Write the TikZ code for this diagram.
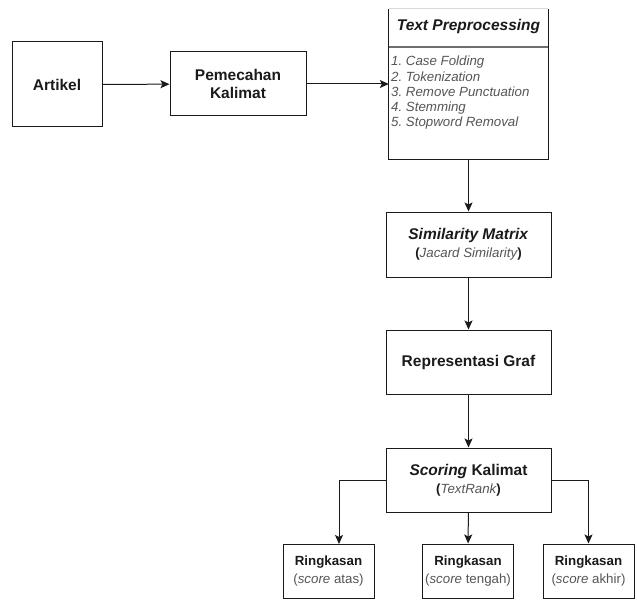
\documentclass[tikz,border=0pt]{standalone}
\usepackage{fontspec}
\setmainfont{Liberation Sans}
\usetikzlibrary{arrows.meta}
\definecolor{ink}{HTML}{1A1A1A}
\definecolor{txtgray}{HTML}{555555}
\definecolor{sepgray}{HTML}{6E6E6E}
\newcommand{\bigtxt}{\fontsize{15.5pt}{17.7pt}\selectfont\bfseries}
\newcommand{\smalltxt}{\fontsize{13.3pt}{18.3pt}\selectfont}
\frenchspacing
\begin{document}
\begin{tikzpicture}[x=1pt,y=-1pt,
    box/.style={draw=ink,line width=1pt,inner sep=0pt,align=center,text=ink,font=\bigtxt},
    leaf/.style={box,minimum width=91pt,minimum height=54pt,font=\smalltxt},
    item/.style={anchor=base west,inner sep=0pt,text=txtgray,font=\smalltxt\itshape}]
  \useasboundingbox (0,0) rectangle (637,607);
  \draw
    (57,84.5) node[box,minimum width=90pt,minimum height=85pt] (artikel) {Artikel}
    (238,84) node[box,minimum width=136pt,minimum height=64pt] (pecah) {Pemecahan\\Kalimat}
    (468.5,84) node[minimum width=159pt,minimum height=150pt,inner sep=0pt] (prep) {}
    (468.5,244.5) node[box,minimum width=165pt,minimum height=65pt] (simmat) {\textit{Similarity Matrix}\\{\smalltxt\textbf{(}\textcolor{txtgray}{\mdseries\itshape Jacard Similarity}\textbf{)}}}
    (468.5,362) node[box,minimum width=165pt,minimum height=64pt] (graf) {Representasi Graf}
    (468.5,480) node[box,minimum width=165pt,minimum height=64pt] (scoring) {\textit{Scoring} Kalimat\\{\smalltxt\textbf{(}\textcolor{txtgray}{\mdseries\itshape TextRank}\textbf{)}}}
    (328.5,571) node[leaf] (atas) {\textbf{Ringkasan}\\\textcolor{txtgray}{(\textit{score} atas)}}
    (468,571) node[leaf] (tengah) {\textbf{Ringkasan}\\\textcolor{txtgray}{(\textit{score} tengah)}}
    (588.5,571) node[leaf] (akhir) {\textbf{Ringkasan}\\\textcolor{txtgray}{(\textit{score} akhir)}};
  % preprocessing box, its top edge is cut off
  \draw[black!15,line width=1pt] (prep.north west) -- (prep.north east);
  \draw[ink,line width=1pt] (prep.north west) -- (prep.south west) -- (prep.south east) -- (prep.north east);
  \draw[sepgray,line width=2pt] (prep.west |- 0,47) -- (prep.east |- 0,47);
  \node[inner sep=0pt,text=ink,font=\bigtxt\itshape] (prephead) at (468.5,26) {Text Preprocessing};
  \foreach \t [count=\i] in {Case Folding,Tokenization,Remove Punctuation,Stemming,Stopword Removal}
    \node[item] (step\i) at (391,50.5+15.3*\i) {\i.\ \t};
  \coordinate (atasin) at (339,544);
  \begin{scope}[ink,line width=1pt,-{Stealth[length=9pt,width=8pt,inset=2pt]}]
    \draw (artikel) to (pecah);
    \draw (pecah) to (prep);
    \draw (prep) to (simmat);
    \draw (simmat) to (graf);
    \draw (graf) to (scoring);
    \draw (scoring.west) -| (atasin);
    \draw (scoring) to (tengah);
    \draw (scoring.east) -| (akhir.north);
  \end{scope}
\end{tikzpicture}
\end{document}
